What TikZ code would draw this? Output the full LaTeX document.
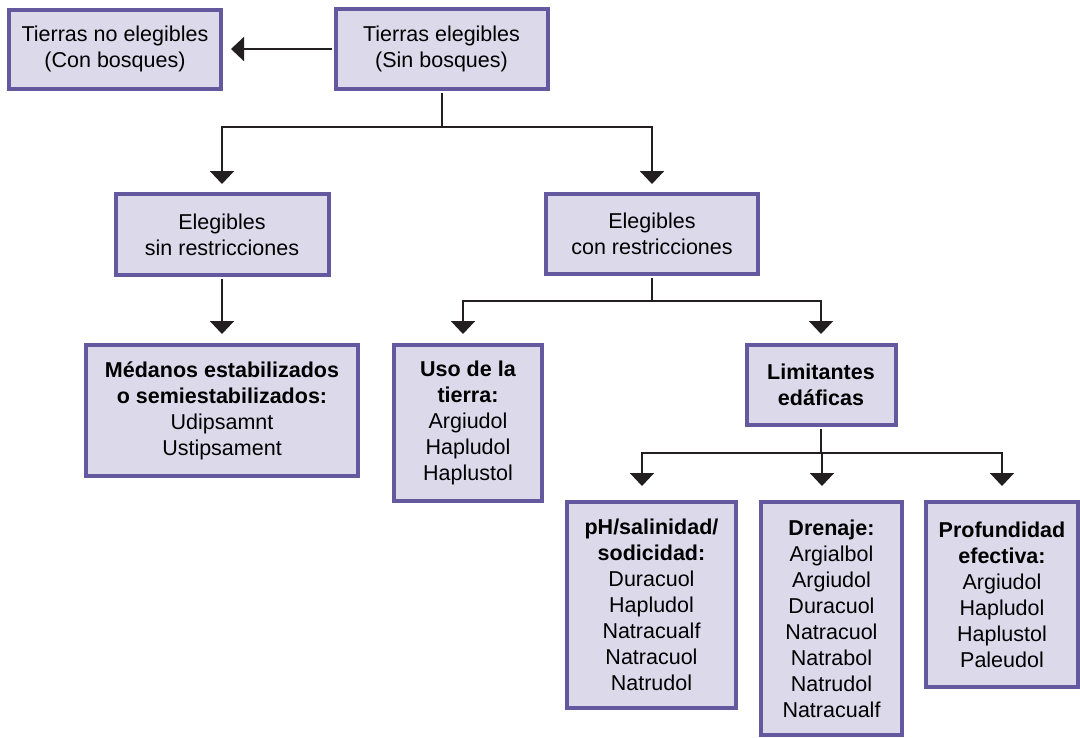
\documentclass[tikz,border=0pt]{standalone}
\usepackage{fontspec}
\setmainfont{Liberation Sans}
\usetikzlibrary{arrows.meta}
\definecolor{boxfill}{RGB}{220,217,234}
\definecolor{boxline}{RGB}{100,89,158}
\definecolor{ink}{RGB}{35,31,32}
\begin{document}
\begin{tikzpicture}[x=1pt,y=-1pt,
  box/.style={draw=boxline, fill=boxfill, line width=4pt, inner sep=0pt,
    align=center, font=\fontsize{21.5}{26}\selectfont},
  conn/.style={draw=ink, line width=2pt, -{Triangle[width=24pt,length=13pt]}},
  plain/.style={draw=ink, line width=2pt}]
\useasboundingbox (0,0) rectangle (1080,737);

\node[box, minimum width=212pt, minimum height=79pt] (B1) at (115,49)
  {Tierras no elegibles\\(Con bosques)};
\node[box, minimum width=212pt, minimum height=80pt] (B2) at (441.5,49)
  {Tierras elegibles\\(Sin bosques)};
\node[box, minimum width=213pt, minimum height=81pt] (B3) at (222,234.5)
  {Elegibles\\sin restricciones};
\node[box, minimum width=212pt, minimum height=80pt] (B4) at (652,234)
  {Elegibles\\con restricciones};
\node[box, minimum width=272pt, minimum height=131pt] (B5) at (222,410.5)
  {\textbf{Médanos estabilizados}\\\textbf{o semiestabilizados:}\\Udipsamnt\\Ustipsament};
\node[box, minimum width=148pt, minimum height=156pt] (B6) at (468,423)
  {\textbf{Uso de la}\\\textbf{tierra:}\\Argiudol\\Hapludol\\Haplustol};
\node[box, minimum width=149pt, minimum height=80pt] (B7) at (821,385)
  {\textbf{Limitantes}\\\textbf{edáficas}};
\node[box, minimum width=169pt, minimum height=206pt] (B8) at (651.5,605)
  {\textbf{pH/salinidad/}\\\textbf{sodicidad:}\\Duracuol\\Hapludol\\Natracualf\\Natracuol\\Natrudol};
\node[box, minimum width=141pt, minimum height=233pt] (B9) at (831.5,618.5)
  {\textbf{Drenaje:}\\Argialbol\\Argiudol\\Duracuol\\Natracuol\\Natrabol\\Natrudol\\Natracualf};
\node[box, minimum width=152pt, minimum height=185pt] (B10) at (1002,594.5)
  {\textbf{Profundidad}\\\textbf{efectiva:}\\Argiudol\\Hapludol\\Haplustol\\Paleudol};

% connectors
\draw[conn, shorten >=8pt, shorten <=2pt] (B2.west) -- (B2.west -| B1.east);

\coordinate (s1) at (441.5,127);
\draw[plain, shorten <=2pt] (B2.south) -- (s1);
\draw[conn, shorten >=8pt] (s1) -| (B3.north);
\draw[conn, shorten >=8pt] (s1) -| (B4.north);

\draw[conn, shorten >=9pt, shorten <=2pt] (B3.south) -- (B5.north);

\coordinate (s2) at (652,301);
\draw[plain, shorten <=2pt] (B4.south) -- (s2);
\draw[conn, shorten >=9pt] (s2) -| ([xshift=-5pt]B6.north);
\draw[conn, shorten >=9pt] (s2) -| (B7.north);

\coordinate (s3) at (821,453);
\draw[plain, shorten <=2pt] (B7.south) -- (s3);
\draw[conn, shorten >=14pt] (s3) -| ([xshift=-9.5pt]B8.north);
\draw[conn, shorten >=14pt] (s3) -| ([xshift=-9.5pt]B9.north);
\draw[conn, shorten >=14pt] (s3) -| (B10.north);
\end{tikzpicture}
\end{document}
